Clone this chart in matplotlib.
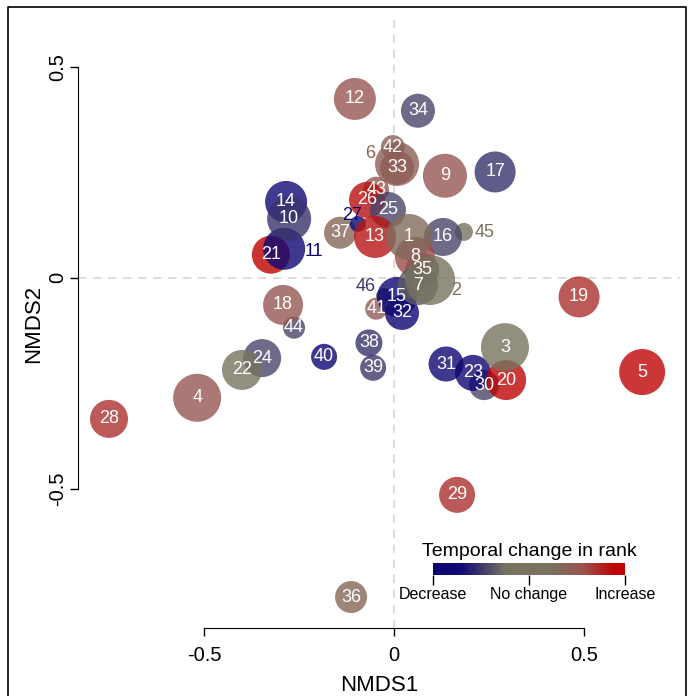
import numpy as np
import matplotlib
matplotlib.use("Agg")
import matplotlib.pyplot as plt
from matplotlib.colors import LinearSegmentedColormap, Normalize
from matplotlib.cm import ScalarMappable
from matplotlib.lines import Line2D

plt.rcParams['font.family'] = ['Liberation Sans', 'DejaVu Sans']

# site scores
site = np.arange(1, 47)
nmds1 = np.array([0.039, 0.095, 0.292, -0.518, 0.653, 0.008, 0.063, 0.055, 0.134, -0.276,
                  -0.289, -0.103, -0.050, -0.284, 0.008, 0.129, 0.266, -0.292, 0.487, 0.295,
                  -0.324, -0.400, 0.208, -0.347, -0.016, -0.071, -0.095, -0.750, 0.166, 0.237,
                  0.137, 0.021, 0.008, 0.063, 0.074, -0.113, -0.142, -0.066, -0.055, -0.184,
                  -0.047, -0.003, -0.047, -0.263, 0.184, -0.026])
nmds2 = np.array([0.097, -0.005, -0.164, -0.284, -0.223, 0.270, -0.017, 0.050, 0.242, 0.140,
                  0.069, 0.424, 0.097, 0.180, -0.045, 0.097, 0.251, -0.064, -0.045, -0.242,
                  0.055, -0.218, -0.225, -0.190, 0.161, 0.185, 0.128, -0.334, -0.514, -0.254,
                  -0.204, -0.083, 0.261, 0.396, 0.019, -0.756, 0.107, -0.154, -0.213, -0.187,
                  -0.073, 0.310, 0.209, -0.118, 0.109, -0.043])
# relative bubble size (radius)
size = np.array([23, 25, 24, 24, 23, 22, 20, 20, 22, 22,
                 21, 21, 21, 21, 20, 19, 20.5, 20, 20.5, 20,
                 19, 20, 18, 19, 18, 18, 8, 19, 18, 15,
                 17.5, 17, 17, 17, 17, 16, 16, 13.5, 13, 13,
                 11, 12, 13, 11, 9, 8])
# temporal change in rank (-1 decrease ... 1 increase)
rank_change = np.array([0.3, 0.0, 0.0, 0.52, 0.88, 0.4, -0.35, 0.6, 0.52, -0.52,
                        -0.9, 0.52, 0.82, -0.72, -0.9, -0.44, -0.52, 0.52, 0.7, 0.88,
                        0.95, 0.0, -0.9, -0.44, -0.44, 0.84, -0.95, 0.7, 0.7, -0.44,
                        -0.85, -0.92, 0.6, -0.44, -0.3, 0.34, 0.34, -0.52, -0.5, -0.92,
                        0.45, 0.4, 0.5, -0.44, 0.0, -0.5])

# labels moved off their bubble (offset in points)
label_nudge = {2: (18.7, -7.2), 6: (-19.4, 7.2), 11: (21.6, -2.2),
               27: (-4.3, 5.8), 45: (15.1, -0.7), 46: (-13, 7.2)}

cmap = LinearSegmentedColormap.from_list(
    'rank', [(0, '#0b0570'), (0.15, '#100a75'), (0.38, '#77735f'), (0.6, '#77735f'),
             (0.78, '#9a5450'), (0.95, '#c00000'), (1, '#c00000')])
norm = Normalize(-1, 1)

fig = plt.figure(figsize=(6.88, 6.96), dpi=100)
ax = fig.add_axes([78/688, 1-628/696, 602/688, 608/696])
ax.set_xlim(-0.8316, 0.7526)
ax.set_ylim(-0.8294, 0.611)

ax.axhline(0, color='#d9d6cc', lw=1.2, dashes=(5, 4), zorder=0)
ax.axvline(0, color='#d9d6cc', lw=1.2, dashes=(5, 4), zorder=0)

order = np.arange(len(site))[::-1]
ax.scatter(nmds1[order], nmds2[order], s=(1.44*size[order])**2, c=rank_change[order],
           cmap=cmap, norm=norm, alpha=0.8, linewidths=0, clip_on=False, zorder=2)

for lab, x, y, v in zip(site, nmds1, nmds2, rank_change):
    if lab in label_nudge:
        ax.annotate(str(lab), (x, y), xytext=label_nudge[lab], textcoords='offset points',
                    ha='center', va='center', color=cmap(norm(v)), fontsize=13, zorder=5)
    else:
        ax.text(x, y, str(lab), ha='center', va='center', color='white',
                fontsize=13, zorder=5)

for s in ['top', 'right']:
    ax.spines[s].set_visible(False)
ax.spines['left'].set_bounds(-0.5, 0.5)
ax.spines['bottom'].set_bounds(-0.5, 0.5)
ax.set_xticks([-0.5, 0, 0.5], ['-0.5', '0', '0.5'])
ax.set_yticks([-0.5, 0, 0.5], ['-0.5', '0', '0.5'])
ax.tick_params(direction='out', length=6, width=1, labelsize=14.5)
ax.tick_params(axis='x', pad=7)
ax.tick_params(axis='y', pad=2)
plt.setp(ax.get_yticklabels(), rotation=90, va='center')
ax.set_xlabel('NMDS1', fontsize=16, labelpad=7)
ax.set_ylabel('NMDS2', fontsize=16, labelpad=3)

# colour legend
cax = fig.add_axes([432.7/688, 1-575/696, 192.6/688, 12/696])
cb = fig.colorbar(ScalarMappable(norm, cmap), cax=cax, orientation='horizontal')
cb.outline.set_visible(False)
cb.set_ticks([-1, 0, 1], labels=['Decrease', 'No change', 'Increase'])
cax.tick_params(length=7.5, width=1, labelsize=11.5, pad=1)
cax.set_title('Temporal change in rank', fontsize=14, pad=5)

fig.add_artist(Line2D([8/688, 8/688, 686/688, 686/688], [0, 1-7/696, 1-7/696, 0],
                      color='black', lw=1.2))

fig.savefig('out.png', dpi=100)
